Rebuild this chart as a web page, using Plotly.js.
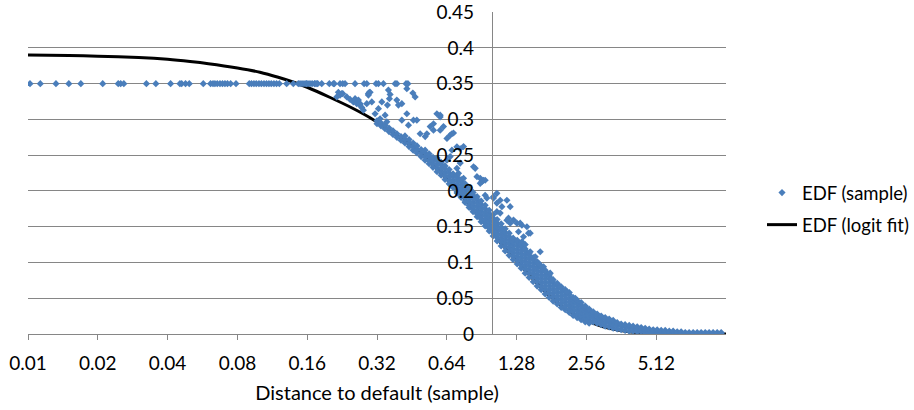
<!DOCTYPE html>
<html><head><meta charset="utf-8">
<script src="https://cdn.plot.ly/plotly-3.0.1.min.js"></script>
<style>html,body{margin:0;padding:0;background:#fff}#chart{width:914px;height:410px}</style>
</head><body><div id="chart"></div>
<script>
// Axis ticks
const xTickVals = [0.01, 0.02, 0.04, 0.08, 0.16, 0.32, 0.64, 1.28, 2.56, 5.12];
const xTickText = ['0.01', '0.02', '0.04', '0.08', '0.16', '0.32', '0.64', '1.28', '2.56', '5.12'];
const yTickVals = [0, 0.05, 0.1, 0.15, 0.2, 0.25, 0.3, 0.35, 0.4, 0.45];
const yTickText = ['0', '0.05', '0.1', '0.15', '0.2', '0.25', '0.3', '0.35', '0.4', '0.45'];

// EDF (logit fit) curve
const fitX = [0.01, 0.015, 0.02, 0.03, 0.04, 0.05, 0.06, 0.08, 0.10, 0.12, 0.14, 0.16, 0.20, 0.25, 0.30, 0.35, 0.40, 0.45, 0.50, 0.60, 0.70, 0.80, 0.90, 1.0, 1.1, 1.25, 1.4, 1.6, 1.8, 2.0, 2.3, 2.6, 3.0, 3.5, 4.0, 4.5, 5.0, 6.0, 7.0, 8.0, 9.0, 10.24];
const fitY = [0.390, 0.3895, 0.3885, 0.3865, 0.384, 0.381, 0.378, 0.372, 0.366, 0.359, 0.352, 0.345, 0.331, 0.316, 0.302, 0.288, 0.275, 0.263, 0.251, 0.226, 0.203, 0.181, 0.161, 0.143, 0.126, 0.106, 0.088, 0.068, 0.052, 0.040, 0.027, 0.018, 0.0105, 0.0055, 0.0028, 0.0014, 0.0007, 0.0002, 0.0001, 0, 0, 0];

// EDF (sample): points sitting on the 0.35 cap
const capLevel = 0.35;
const capX = [0.0102, 0.0113, 0.0132, 0.0150, 0.0169, 0.0210, 0.0245, 0.0251, 0.0259, 0.0324, 0.0356, 0.0412, 0.0452, 0.0460, 0.0478, 0.0496, 0.0570,
  0.0613, 0.0628, 0.0640, 0.0655, 0.0673, 0.0690, 0.0707, 0.0725, 0.0748, 0.0789,
  0.0900, 0.0920, 0.0943, 0.0965, 0.0991, 0.1015, 0.1042, 0.1068, 0.1094, 0.1120, 0.1150, 0.1180, 0.1213,
  0.1305, 0.1394, 0.1465, 0.149, 0.152, 0.155, 0.158, 0.159, 0.1613, 0.1645, 0.168, 0.172, 0.173, 0.176, 0.1776,
  0.1848, 0.1993, 0.2075, 0.2095, 0.2217, 0.2277, 0.233, 0.2573, 0.2815, 0.2892, 0.317, 0.3245, 0.341, 0.383, 0.390, 0.427, 0.435];

// EDF (sample): scattered points above the main band
const outX = [0.2146, 0.2180, 0.2217, 0.2255, 0.2278, 0.2370, 0.2449, 0.2531, 0.2574, 0.2618, 0.2660, 0.2705, 0.2705, 0.2751, 0.2795, 0.2891, 0.2938, 0.2938, 0.2967, 0.2988, 0.3039,
  0.3140, 0.3245, 0.3300, 0.3357, 0.3468, 0.3527, 0.3549, 0.3584, 0.3620, 0.3645, 0.3896, 0.3959, 0.4095, 0.4095, 0.4304, 0.4304, 0.4373, 0.4568, 0.4596, 0.4674, 0.4753, 0.4912,
  0.5164, 0.5251, 0.5427, 0.5608, 0.5608, 0.5800, 0.5994, 0.5994, 0.5994, 0.6193, 0.641, 0.641, 0.662, 0.662, 0.6733, 0.6733, 0.6841, 0.7076, 0.7076, 0.7189, 0.7312, 0.7312,
  0.7556, 0.7556, 0.8346, 0.8488, 0.8633, 0.8921, 0.8921, 0.9073, 0.9211, 0.9367, 0.9367, 0.9527, 1.0173, 1.0173, 1.0523, 1.0523, 1.0523, 1.0875, 1.0875, 1.106,
  1.1624, 1.1624, 1.1809, 1.201, 1.201, 1.2412, 1.2838, 1.3044, 1.3266, 1.3492, 1.3492, 1.3709, 1.3943, 1.418, 1.4408, 1.4653, 1.4653, 1.54, 1.5913, 1.6184, 1.6724,
  1.7879, 1.8184, 1.9748, 2.111, 2.2925];
const outY = [0.3315, 0.338, 0.334, 0.336, 0.336, 0.3315, 0.328, 0.3245, 0.329, 0.322, 0.327, 0.320, 0.322, 0.3166, 0.313, 0.322, 0.334, 0.336, 0.338, 0.338, 0.3245,
  0.308, 0.315, 0.301, 0.3245, 0.306, 0.2966, 0.320, 0.341, 0.329, 0.335, 0.327, 0.320, 0.322, 0.299, 0.343, 0.308, 0.292, 0.337, 0.299, 0.3315, 0.299, 0.280,
  0.276, 0.280, 0.290, 0.285, 0.294, 0.308, 0.3035, 0.306, 0.285, 0.290, 0.2734, 0.243, 0.278, 0.248, 0.280, 0.257, 0.281, 0.2617, 0.2316, 0.2246, 0.259, 0.239,
  0.262, 0.2176, 0.2338, 0.2316, 0.220, 0.2176, 0.2106, 0.213, 0.215, 0.215, 0.194, 0.190, 0.192, 0.190, 0.183, 0.1967, 0.171, 0.187, 0.169, 0.178,
  0.187, 0.159, 0.162, 0.178, 0.155, 0.1594, 0.155, 0.143, 0.155, 0.152, 0.129, 0.136, 0.125, 0.150, 0.141, 0.141, 0.115, 0.108, 0.099, 0.115, 0.094,
  0.085, 0.0757, 0.066, 0.059, 0.050];

// EDF (sample): dense band, one x per column with the y values seen in it
const bandX = [0.32, 0.333, 0.3465, 0.3605, 0.375, 0.39, 0.406, 0.4225, 0.44, 0.458, 0.476, 0.496, 0.516, 0.537, 0.558, 0.581, 0.605, 0.629, 0.655, 0.681,
  0.709, 0.738, 0.768, 0.799, 0.831, 0.865, 0.9, 0.937, 0.975, 1.014, 1.055, 1.098, 1.143, 1.189, 1.237, 1.288, 1.34, 1.394, 1.45, 1.51,
  1.57, 1.635, 1.70, 1.77, 1.84, 1.916, 1.994, 2.075, 2.16, 2.245, 2.335, 2.43, 2.53, 2.63, 2.74, 2.85, 2.965, 3.085, 3.21, 3.34,
  3.475, 3.615, 3.76, 3.915, 4.07, 4.24, 4.41, 4.59, 4.775, 4.97, 5.17, 5.38, 5.6, 5.83, 6.06, 6.31, 6.56, 6.83, 7.1, 7.39,
  7.69, 8.0, 8.33, 8.66, 9.01, 9.38, 9.76];
const bandY = [
  [0.294, 0.298], [0.291, 0.295], [0.287, 0.292], [0.283, 0.288], [0.279, 0.284], [0.275, 0.280], [0.271, 0.276],
  [0.267, 0.272, 0.277], [0.262, 0.267, 0.272], [0.257, 0.262, 0.267], [0.253, 0.258, 0.263], [0.248, 0.253, 0.258],
  [0.243, 0.248, 0.253, 0.257], [0.238, 0.243, 0.248, 0.252], [0.233, 0.238, 0.243, 0.247],
  [0.227, 0.232, 0.237, 0.242, 0.246], [0.222, 0.227, 0.232, 0.237, 0.240], [0.216, 0.221, 0.226, 0.231, 0.235],
  [0.210, 0.215, 0.220, 0.225, 0.230], [0.205, 0.210, 0.215, 0.220, 0.224],
  [0.197, 0.199, 0.204, 0.209, 0.214, 0.219, 0.222], [0.191, 0.193, 0.198, 0.203, 0.208, 0.213, 0.216], [0.184, 0.186, 0.191, 0.196, 0.201, 0.206, 0.210],
  [0.177, 0.180, 0.185, 0.190, 0.195, 0.200, 0.204], [0.171, 0.174, 0.179, 0.184, 0.189, 0.194, 0.198], [0.164, 0.168, 0.173, 0.178, 0.183, 0.188, 0.192],
  [0.157, 0.161, 0.166, 0.171, 0.176, 0.181, 0.186], [0.151, 0.155, 0.160, 0.165, 0.170, 0.175, 0.180], [0.144, 0.148, 0.153, 0.158, 0.163, 0.168, 0.173],
  [0.137, 0.142, 0.147, 0.152, 0.157, 0.162, 0.167], [0.130, 0.135, 0.140, 0.145, 0.150, 0.155, 0.160], [0.123, 0.129, 0.134, 0.139, 0.144, 0.149, 0.154],
  [0.116, 0.122, 0.127, 0.132, 0.137, 0.142, 0.147], [0.110, 0.116, 0.121, 0.126, 0.131, 0.136, 0.141], [0.104, 0.109, 0.114, 0.119, 0.124, 0.129, 0.134],
  [0.098, 0.103, 0.108, 0.113, 0.118, 0.123, 0.128, 0.131], [0.092, 0.097, 0.102, 0.107, 0.112, 0.117, 0.122, 0.125], [0.085, 0.091, 0.096, 0.101, 0.106, 0.111, 0.116, 0.119],
  [0.079, 0.085, 0.090, 0.095, 0.100, 0.105, 0.110, 0.113], [0.073, 0.079, 0.084, 0.089, 0.094, 0.099, 0.104, 0.107],
  [0.067, 0.073, 0.078, 0.083, 0.088, 0.093, 0.098, 0.101], [0.062, 0.067, 0.072, 0.077, 0.082, 0.087, 0.092, 0.095], [0.056, 0.062, 0.067, 0.072, 0.077, 0.082, 0.087, 0.089],
  [0.051, 0.057, 0.062, 0.067, 0.072, 0.077, 0.081, 0.084], [0.046, 0.052, 0.057, 0.062, 0.067, 0.072, 0.076], [0.042, 0.048, 0.053, 0.058, 0.063, 0.068, 0.071],
  [0.037, 0.043, 0.048, 0.053, 0.058, 0.063, 0.066], [0.034, 0.039, 0.044, 0.049, 0.054, 0.059, 0.062], [0.030, 0.035, 0.040, 0.045, 0.050, 0.055, 0.058],
  [0.026, 0.032, 0.037, 0.042, 0.047, 0.051], [0.023, 0.028, 0.033, 0.038, 0.043, 0.047], [0.020, 0.025, 0.030, 0.035, 0.040, 0.044],
  [0.017, 0.022, 0.027, 0.032, 0.036, 0.039], [0.015, 0.019, 0.024, 0.029, 0.033, 0.035], [0.017, 0.022, 0.027, 0.031], [0.015, 0.020, 0.025, 0.028],
  [0.013, 0.018, 0.023, 0.025], [0.011, 0.016, 0.021, 0.023], [0.010, 0.015, 0.019, 0.021], [0.008, 0.013, 0.017, 0.019],
  [0.007, 0.012, 0.016], [0.006, 0.011, 0.014], [0.005, 0.010, 0.013], [0.004, 0.009, 0.012], [0.004, 0.008, 0.011],
  [0.003, 0.007, 0.010], [0.003, 0.006, 0.009], [0.002, 0.006, 0.008], [0.002, 0.005, 0.007], [0.002, 0.005, 0.006],
  [0.001, 0.004, 0.006], [0.001, 0.004, 0.005], [0.001, 0.003, 0.005], [0.001, 0.003, 0.004], [0.001, 0.003, 0.004],
  [0.001, 0.003], [0.001, 0.003], [0.001, 0.002], [0.001, 0.002], [0.001, 0.002],
  [0.001, 0.002], [0.001, 0.002], [0.001, 0.002], [0.001, 0.002], [0.001, 0.002], [0.001, 0.002], [0.001, 0.002]
];

// Build the sample table
const sampleX = [], sampleY = [];
capX.forEach(x => { sampleX.push(x); sampleY.push(capLevel); });
bandX.forEach((x, i) => bandY[i].forEach(y => { sampleX.push(x); sampleY.push(y); }));
outX.forEach((x, i) => { sampleX.push(x); sampleY.push(outY[i]); });

const FONT = 'Lato, "Open Sans", sans-serif';
const GRID = '#868686';

const traces = [
  { x: fitX, y: fitY, type: 'scatter', mode: 'lines', name: 'EDF (logit fit)',
    line: { color: '#000000', width: 3, shape: 'spline', smoothing: 0.6 }, legendgroup: 'b', legendrank: 2 },
  { x: sampleX, y: sampleY, type: 'scatter', mode: 'markers', name: 'EDF (sample)',
    marker: { symbol: 'diamond', size: 5.5, color: '#4a7ebb', line: { width: 0 } }, legendgroup: 'a', legendrank: 1 }
];

const layout = {
  width: 914, height: 410,
  margin: { l: 28, r: 188, t: 12, b: 76 },
  paper_bgcolor: '#ffffff', plot_bgcolor: '#ffffff',
  font: { family: FONT, size: 19, color: '#000000' },
  showlegend: true,
  legend: { xref: 'container', x: 762 / 914, xanchor: 'left', y: 0.388, yanchor: 'middle', traceorder: 'grouped',
            tracegroupgap: 5, font: { family: FONT, size: 18.5, color: '#000' }, bgcolor: 'rgba(0,0,0,0)' },
  xaxis: {
    type: 'log', range: [Math.log10(0.01), Math.log10(10.24)],
    tickmode: 'array', tickvals: xTickVals, ticktext: xTickText,
    ticks: 'outside', ticklen: 5, tickcolor: GRID, tickwidth: 1,
    showline: true, linecolor: GRID, linewidth: 1, showgrid: false, zeroline: false,
    ticklabelstandoff: 7,
    tickfont: { family: FONT, size: 19, color: '#000' },
    title: { text: 'Distance to default (sample)', font: { family: FONT, size: 20, color: '#000' }, standoff: 13 }
  },
  yaxis: {
    range: [0, 0.4502], tickmode: 'array', tickvals: yTickVals, ticktext: yTickText,
    anchor: 'free', position: Math.log10(1 / 0.01) / Math.log10(10.24 / 0.01),
    showline: true, linecolor: GRID, linewidth: 1,
    showgrid: true, gridcolor: GRID, gridwidth: 1, zeroline: false,
    ticks: '', ticklabelstandoff: 14, ticklabeloverflow: 'allow',
    tickfont: { family: FONT, size: 19, color: '#000' }
  }
};

Plotly.newPlot('chart', traces, layout, { displayModeBar: false, staticPlot: true });
</script>
</body></html>
